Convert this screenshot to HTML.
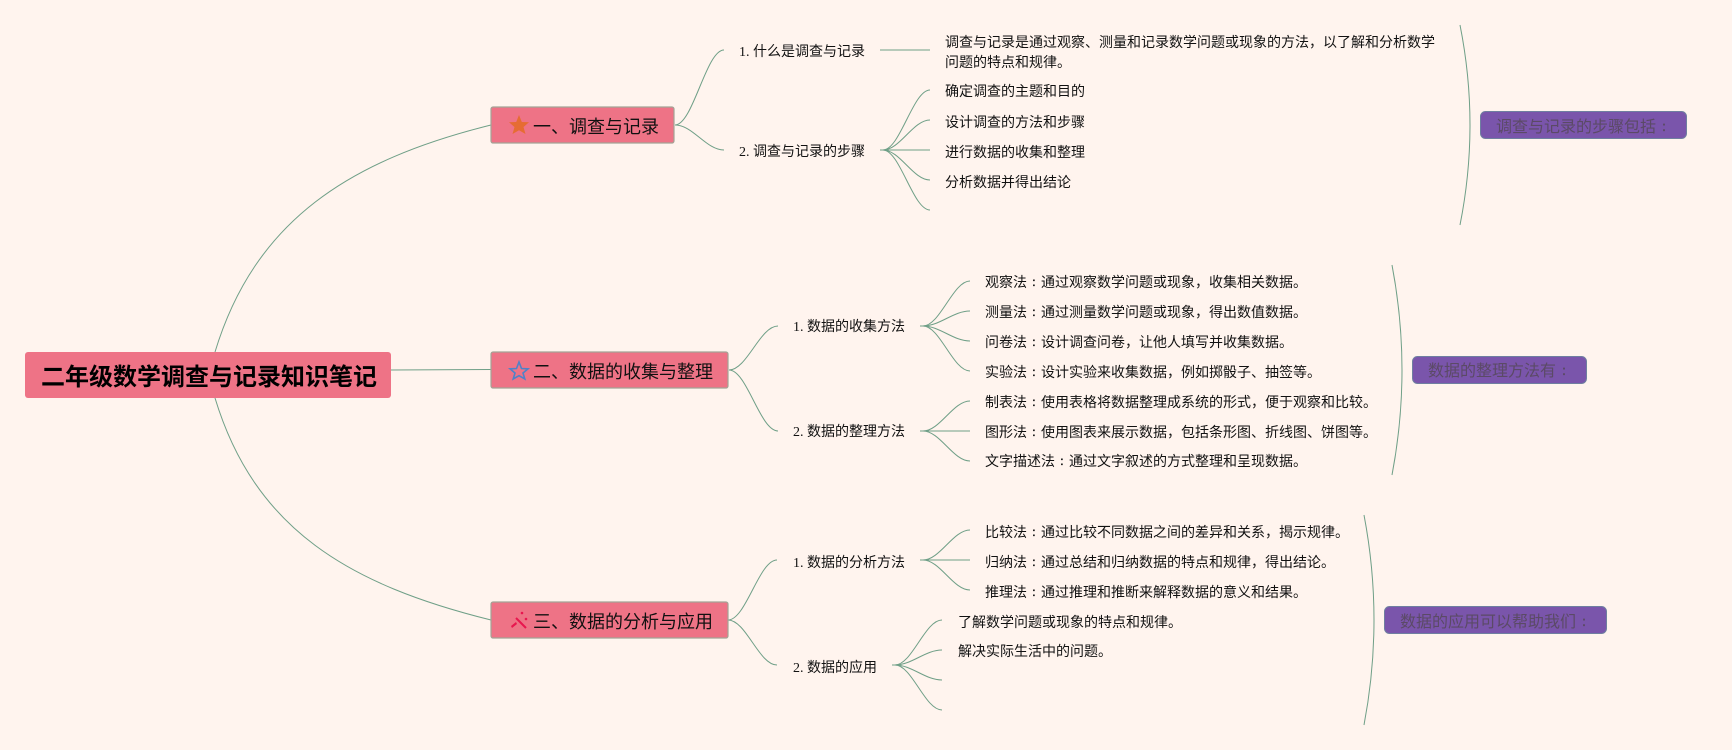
<!DOCTYPE html>
<html><head><meta charset="utf-8"><title>二年级数学调查与记录知识笔记</title>
<style>
html,body{margin:0;padding:0;background:#fff4ee;width:1732px;height:750px;overflow:hidden}
svg{display:block}
text{font-family:"Liberation Serif","WenQuanYi Zen Hei","Noto Sans CJK SC",sans-serif;fill:#111;font-size:14px}
.k{font-family:"IPAGothic","Noto Sans CJK JP",sans-serif}
.t{font-size:18px}
.r{font-size:24px;font-weight:bold;fill:#000}
.s{font-size:16px;fill:#5b4a66}
.c{fill:none;stroke:#6f9f87;stroke-width:1}
.box{fill:#ee7386;stroke:#a3a396;stroke-width:1.2}
.sb{fill:#7a55ab;stroke:#6f7fa0;stroke-width:1}
</style></head><body>
<svg width="1732" height="750" viewBox="0 0 1732 750" xmlns="http://www.w3.org/2000/svg">
<rect width="1732" height="750" fill="#fff4ee"/>
<!-- root connectors -->
<path class="c" d="M215 352C255 220 350 160 491 125"/>
<path class="c" d="M391 370L491 369.500"/>
<path class="c" d="M215 398C255 530 350 585 491 620"/>
<!-- section 1 connectors -->
<path class="c" d="M675 125C693 125 706 50 724 50"/>
<path class="c" d="M675 125C693 125 706 150 724 150"/>
<path class="c" d="M880 50L930 50"/>
<path class="c" d="M880 150L883 150C900 150 913 90 930 90"/>
<path class="c" d="M880 150L883 150C900 150 913 120 930 120"/>
<path class="c" d="M880 150L930 150"/>
<path class="c" d="M880 150L883 150C900 150 913 180 930 180"/>
<path class="c" d="M880 150L883 150C900 150 913 210 930 210"/>
<!-- section 2 connectors -->
<path class="c" d="M729 370C747 370 760 326 778 326"/>
<path class="c" d="M729 370C747 370 760 431 778 431"/>
<path class="c" d="M920 326L923 326C940 326 953 281 970 281"/>
<path class="c" d="M920 326L923 326C940 326 953 311 970 311"/>
<path class="c" d="M920 326L923 326C940 326 953 341 970 341"/>
<path class="c" d="M920 326L923 326C940 326 953 371 970 371"/>
<path class="c" d="M920 431L923 431C940 431 953 401 970 401"/>
<path class="c" d="M920 431L970 431"/>
<path class="c" d="M920 431L923 431C940 431 953 461 970 461"/>
<!-- section 3 connectors -->
<path class="c" d="M728 620C746 620 759 560 777 560"/>
<path class="c" d="M728 620C746 620 759 665 777 665"/>
<path class="c" d="M920 560L923 560C940 560 953 530 970 530"/>
<path class="c" d="M920 560L970 560"/>
<path class="c" d="M920 560L923 560C940 560 953 590 970 590"/>
<path class="c" d="M892 665L895 665C912 665 925 620 942 620"/>
<path class="c" d="M892 665L895 665C912 665 925 650 942 650"/>
<path class="c" d="M892 665L895 665C912 665 925 680 942 680"/>
<path class="c" d="M892 665L895 665C912 665 925 710 942 710"/>
<!-- summary brackets -->
<path class="c" d="M1460 25Q1480 125 1460 225"/>
<path class="c" d="M1392 265Q1412 370 1392 475"/>
<path class="c" d="M1364 515Q1384 620 1364 725"/>
<!-- root -->
<rect x="25" y="352" width="366" height="46" rx="3" fill="#ee7386"/>
<text class="r" x="41" y="385">二年级数学调查与记录知识笔记</text>
<!-- topics -->
<rect class="box" x="491" y="107" width="183" height="36" rx="2"/>
<polygon points="519,115 521.800,122 529,122.300 523.500,127 525.500,134 519,130.200 512.500,134 514.500,127 509,122.300 516.200,122" fill="#e66c33"/>
<text class="t" x="533" y="133">一、调查与记录</text>
<rect class="box" x="491" y="352" width="237" height="36" rx="2"/>
<polygon points="519,362 521.500,368.500 528,368.800 523,373 524.800,379 519,375.700 513.200,379 515,373 510,368.800 516.500,368.500" fill="none" stroke="#4f82c8" stroke-width="1.600"/>
<text class="t" x="533" y="378">二、数据的收集与整理</text>
<rect class="box" x="491" y="602" width="237" height="36" rx="2"/>
<g fill="#e8174f"><path d="M516 618L526 628" stroke="#e8174f" stroke-width="2" fill="none"/><circle cx="522" cy="613" r="1.300"/><circle cx="526" cy="619" r="1.300"/><path d="M511 626L516 622L517 624L512 628Z"/></g>
<text class="t" x="533" y="628">三、数据的分析与应用</text>
<!-- labels -->
<text x="739" y="56">1. 什么是调查与记录</text>
<text x="739" y="156">2. 调查与记录的步骤</text>
<text x="793" y="331">1. 数据的收集方法</text>
<text x="793" y="436">2. 数据的整理方法</text>
<text x="793" y="567">1. 数据的分析方法</text>
<text x="793" y="672">2. 数据的应用</text>
<!-- leaves -->
<text x="945" y="47">调查与记录是通过观察、测量和记录数学问题或现象的方法，以了解和分析数学</text>
<text x="945" y="67">问题的特点和规律。</text>
<text x="945" y="96">确定调查的主题和目的</text>
<text x="945" y="127">设计调查的方法和步骤</text>
<text x="945" y="157">进行数据的收集和整理</text>
<text x="945" y="187">分析数据并得出结论</text>
<text x="985" y="287">观察法<tspan class="k" lang="ja">：</tspan>通过观察数学问题或现象，收集相关数据。</text>
<text x="985" y="317">测量法<tspan class="k" lang="ja">：</tspan>通过测量数学问题或现象，得出数值数据。</text>
<text x="985" y="347">问卷法<tspan class="k" lang="ja">：</tspan>设计调查问卷，让他人填写并收集数据。</text>
<text x="985" y="377">实验法<tspan class="k" lang="ja">：</tspan>设计实验来收集数据，例如掷骰子、抽签等。</text>
<text x="985" y="407">制表法<tspan class="k" lang="ja">：</tspan>使用表格将数据整理成系统的形式，便于观察和比较。</text>
<text x="985" y="437">图形法<tspan class="k" lang="ja">：</tspan>使用图表来展示数据，包括条形图、折线图、饼图等。</text>
<text x="985" y="466">文字描述法<tspan class="k" lang="ja">：</tspan>通过文字叙述的方式整理和呈现数据。</text>
<text x="985" y="537">比较法<tspan class="k" lang="ja">：</tspan>通过比较不同数据之间的差异和关系，揭示规律。</text>
<text x="985" y="567">归纳法<tspan class="k" lang="ja">：</tspan>通过总结和归纳数据的特点和规律，得出结论。</text>
<text x="985" y="597">推理法<tspan class="k" lang="ja">：</tspan>通过推理和推断来解释数据的意义和结果。</text>
<text x="958" y="627">了解数学问题或现象的特点和规律。</text>
<text x="958" y="656">解决实际生活中的问题。</text>
<!-- summaries -->
<rect class="sb" x="1480.500" y="111.500" width="206" height="27" rx="5"/>
<text class="s" x="1496" y="132">调查与记录的步骤包括<tspan class="k" lang="ja">：</tspan></text>
<rect class="sb" x="1412.500" y="356.500" width="174" height="27" rx="5"/>
<text class="s" x="1428" y="376">数据的整理方法有<tspan class="k" lang="ja">：</tspan></text>
<rect class="sb" x="1384.500" y="606.500" width="222" height="27" rx="5"/>
<text class="s" x="1400" y="627">数据的应用可以帮助我们<tspan class="k" lang="ja">：</tspan></text>
</svg>
</body></html>
